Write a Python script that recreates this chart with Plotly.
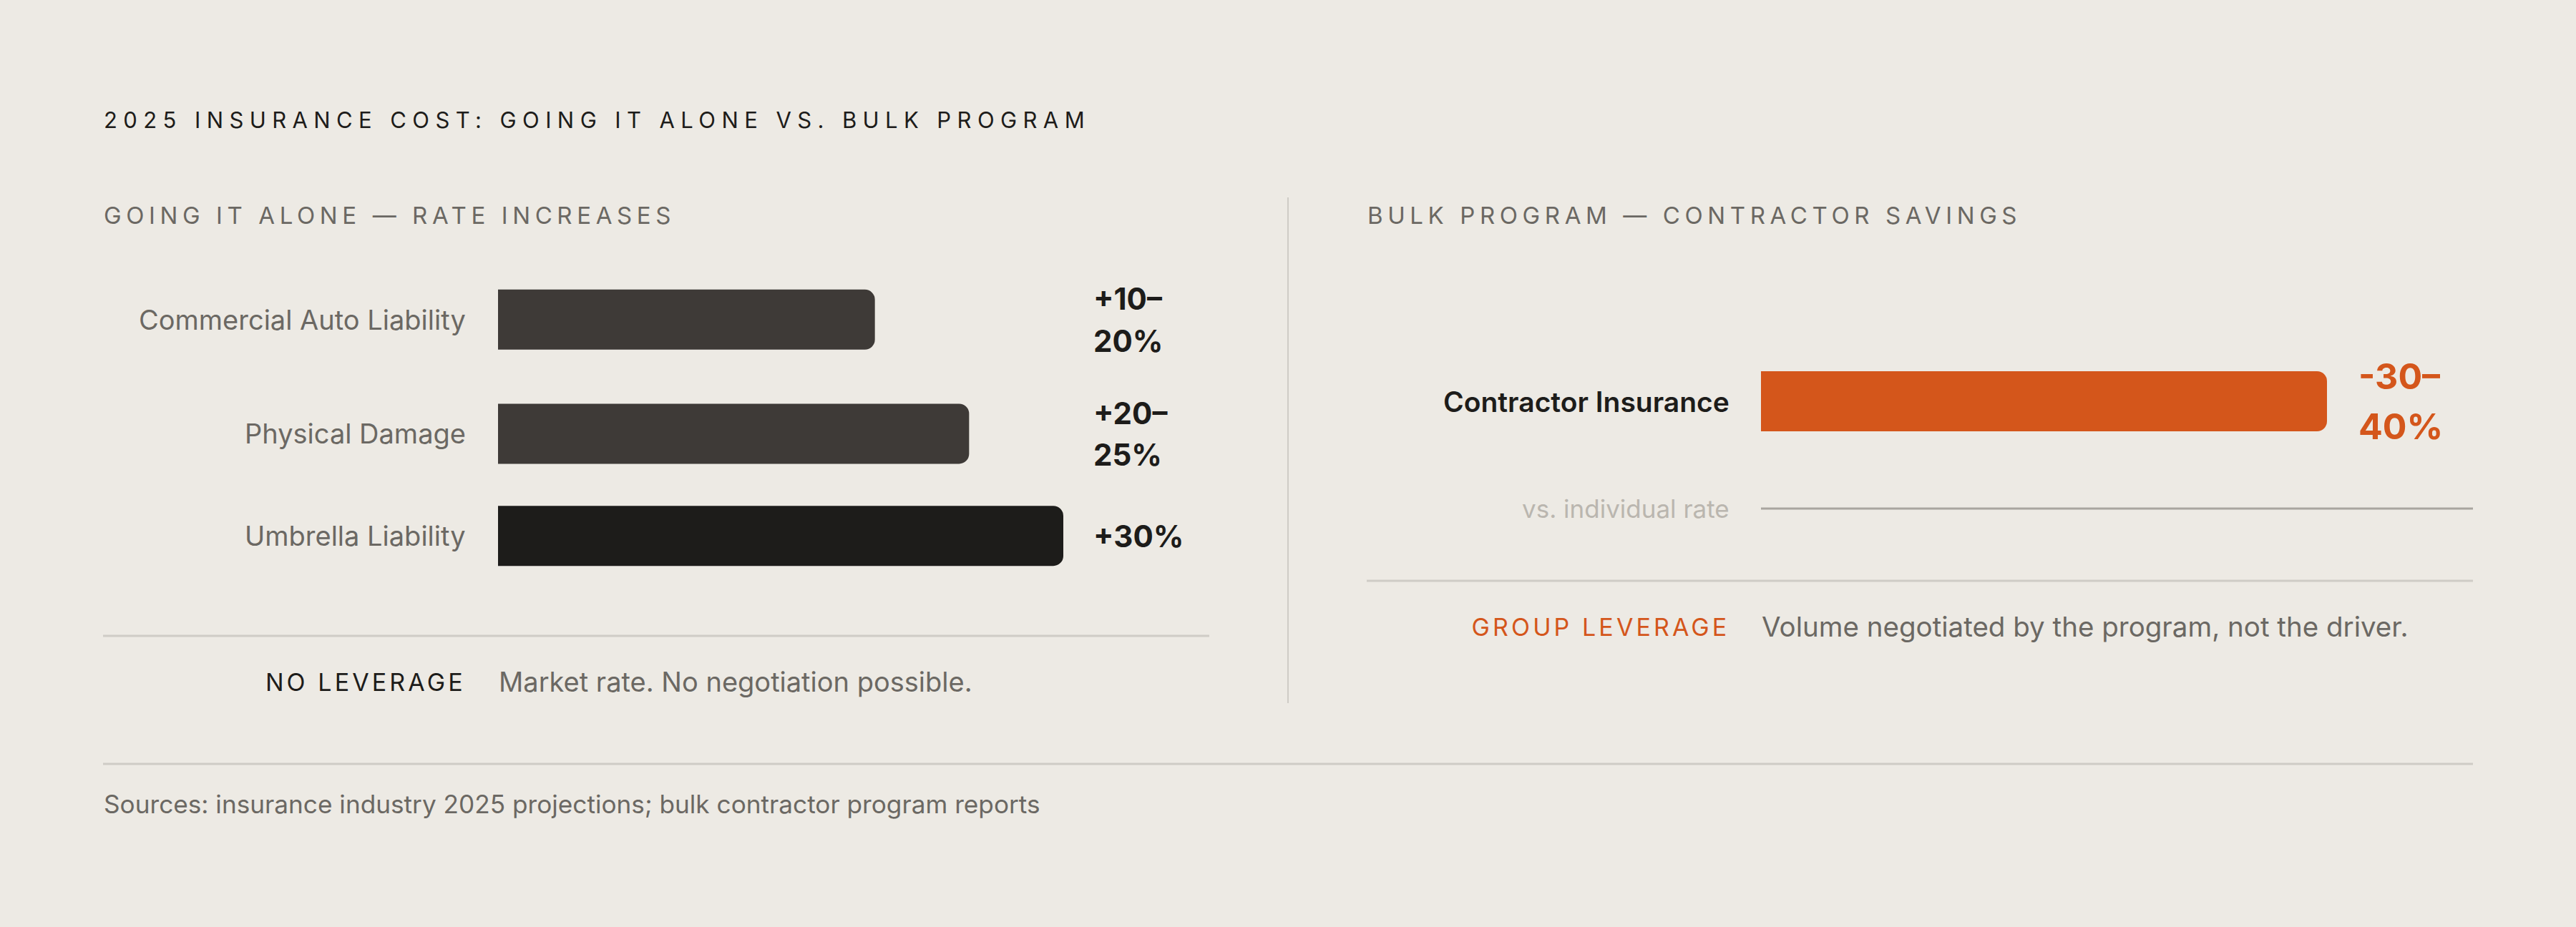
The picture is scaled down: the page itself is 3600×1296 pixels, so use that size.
import plotly.graph_objects as go
import json

W, H = 3600, 1296

# ---------------- data ----------------
left_categories = ["Commercial Auto Liability", "Physical Damage", "Umbrella Liability"]
left_low = [10, 20, 30]
left_high = [20, 25, 30]
left_value_labels = ["+10–20%", "+20–25%", "+30%"]
left_colors = ["#3e3a37", "#3e3a37", "#1d1c1a"]
left_scale_max = 30

right_categories = ["Contractor Insurance"]
right_low = [30]
right_high = [40]
right_value_labels = ["-30–40%"]
right_scale_max = 40
reference_label = "vs. individual rate"

title = "2025 INSURANCE COST: GOING IT ALONE VS. BULK PROGRAM"
left_subtitle = "GOING IT ALONE — RATE INCREASES"
right_subtitle = "BULK PROGRAM — CONTRACTOR SAVINGS"
left_note_key = "NO LEVERAGE"
left_note_text = "Market rate. No negotiation possible."
right_note_key = "GROUP LEVERAGE"
right_note_text = "Volume negotiated by the program, not the driver."
source_text = "Sources: insurance industry 2025 projections; bulk contractor program reports"

# ---------------- style ----------------
BG = "#edeae4"
DARK = "#1d1c1a"
GRAY = "#6b6863"
LIGHT = "#bab6af"
RULE = "#cfccc6"
ORANGE = "#d4561b"
FONT = "Inter"


def px(x):
    return x / W


def wrap(label):
    i = label.find("–")
    if i >= 0 and i < len(label) - 1:
        return [label[: i + 1], label[i + 1:]]
    return [label]


def row_centers(labels, top, line_h, bar_h, gap):
    out = []
    y = top
    for lab in labels:
        h = max(bar_h, len(wrap(lab)) * line_h)
        out.append(y + h / 2)
        y += h + gap
    return out


BAR_H = 84
L_LINE = 58.8
R_LINE = 70
left_y = row_centers(left_value_labels, 388, L_LINE, BAR_H, 42)
right_y = row_centers(right_value_labels, 491, R_LINE, BAR_H, 42)

L_X0, L_X1 = 696, 1486
R_X0, R_X1 = 2461, 3252
PANEL_R_END = 3456

fig = go.Figure()
fig.add_trace(go.Bar(
    x=left_high, y=left_y, orientation="h", width=BAR_H,
    marker=dict(color=left_colors, cornerradius=14, line=dict(width=0)),
    xaxis="x", yaxis="y", hoverinfo="skip", showlegend=False,
))
fig.add_trace(go.Bar(
    x=right_high, y=right_y, orientation="h", width=BAR_H,
    marker=dict(color=ORANGE, cornerradius=14, line=dict(width=0)),
    xaxis="x2", yaxis="y", hoverinfo="skip", showlegend=False,
))

annotations = []
spacing = {}


def ann(text, x, y, size, color, xanchor="left", weight=400, ls=None):
    annotations.append(dict(
        text=text, x=px(x), y=y, xref="paper", yref="y",
        xanchor=xanchor, yanchor="middle", showarrow=False,
        align=xanchor if xanchor in ("left", "right") else "center",
        borderpad=0,
        font=dict(family=FONT, size=size, color=color, weight=weight),
    ))
    if ls is not None:
        spacing[len(annotations) - 1] = ls


ann(title, 144, 167, 31, DARK, ls="8.4px")
ann(left_subtitle, 144, 301, 33, GRAY, ls="6.6px")
ann(right_subtitle, 1910, 301, 33, GRAY, ls="6.6px")

for cat, yc in zip(left_categories, left_y):
    ann(cat, 652, yc, 38, GRAY, xanchor="right")
for lab, yc in zip(left_value_labels, left_y):
    lines = wrap(lab)
    for k, ln in enumerate(lines):
        ann(ln, 1527, yc + (k - (len(lines) - 1) / 2) * L_LINE, 42, DARK, weight=700)

for cat, yc in zip(right_categories, right_y):
    ann(cat, 2418, yc, 39, DARK, xanchor="right", weight=600)
for lab, yc in zip(right_value_labels, right_y):
    lines = wrap(lab)
    for k, ln in enumerate(lines):
        ann(ln, 3295, yc + (k - (len(lines) - 1) / 2) * R_LINE, 50, ORANGE, weight=700)

ann(reference_label, 2418, 711, 35, LIGHT, xanchor="right")

ann(left_note_key, 652, 953, 34, DARK, xanchor="right", ls="4.1px")
ann(left_note_text, 696, 953, 38, GRAY)
ann(right_note_key, 2418, 876, 34, ORANGE, xanchor="right", ls="4.1px")
ann(right_note_text, 2461, 876, 38.5, GRAY)

ann(source_text, 144, 1124, 35.2, GRAY)

shapes = [
    dict(type="line", xref="paper", yref="y", x0=px(1800), x1=px(1800), y0=276, y1=983,
         line=dict(color=RULE, width=2)),
    dict(type="line", xref="paper", yref="y", x0=px(144), x1=px(1690), y0=889, y1=889,
         line=dict(color=RULE, width=3)),
    dict(type="line", xref="paper", yref="y", x0=px(1910), x1=px(PANEL_R_END), y0=812, y1=812,
         line=dict(color=RULE, width=3)),
    dict(type="line", xref="paper", yref="y", x0=px(144), x1=px(PANEL_R_END), y0=1068, y1=1068,
         line=dict(color=RULE, width=3)),
    dict(type="line", xref="paper", yref="y", x0=px(R_X0), x1=px(PANEL_R_END), y0=711, y1=711,
         line=dict(color="#a9a59f", width=3)),
]

fig.update_layout(
    width=W, height=H,
    margin=dict(l=0, r=0, t=0, b=0, pad=0),
    paper_bgcolor=BG, plot_bgcolor=BG,
    barmode="overlay",
    xaxis=dict(domain=[px(L_X0), px(L_X1)], range=[0, left_scale_max], visible=False,
               fixedrange=True, anchor="y"),
    xaxis2=dict(domain=[px(R_X0), px(R_X1)], range=[0, right_scale_max], visible=False,
                fixedrange=True, anchor="y"),
    yaxis=dict(domain=[0, 1], range=[H, 0], visible=False, fixedrange=True, anchor="x"),
    annotations=annotations,
    shapes=shapes,
    font=dict(family=FONT),
)

post = """
document.body.style.margin='0';
document.body.style.background='%s';
document.body.style.overflow='hidden';
var gd=document.getElementById('{plot_id}');
var spec=%s;
for (var k in spec){
  var t=gd.querySelector('g.annotation[data-index="'+k+'"] text.annotation-text');
  if(t){t.style.letterSpacing=spec[k];}
}
""" % (BG, json.dumps({str(k): v for k, v in spacing.items()}))

fig.write_html("out.html", config={"displayModeBar": False, "responsive": False}, post_script=post)
